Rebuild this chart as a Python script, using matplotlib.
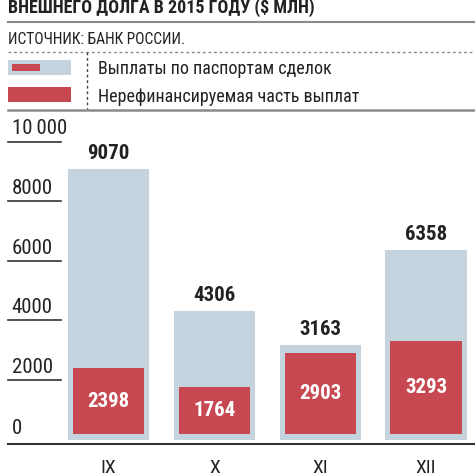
import numpy as np
import matplotlib.pyplot as plt
from matplotlib.patches import Rectangle
from matplotlib.lines import Line2D

# данные
months = ['IX', 'X', 'XI', 'XII']
total = [9070, 4306, 3163, 6358]          # выплаты по паспортам сделок
nonrefin = [2398, 1764, 2903, 3293]       # нерефинансируемая часть
yticks = [0, 2000, 4000, 6000, 8000, 10000]
ytick_labels = ['0', '2000', '4000', '6000', '8000', '10\u2009000']

light = '#c5d3de'
red = '#c84852'
dark = '#222222'
grey = '#8a8a8a'

plt.rcParams['font.family'] = ['Roboto Condensed', 'DejaVu Sans']

W = H = 475
fig = plt.figure(figsize=(4.75, 4.75), dpi=100)

def fx(x):
    return x / W

def fy(y):
    return 1 - y / H

# заголовок и шапка
fig.text(fx(8), fy(12.5), 'ВНЕШНЕГО ДОЛГА В 2015 ГОДУ ($ МЛН)', fontsize=13,
         fontweight='bold', color=dark, va='baseline', ha='left')
fig.add_artist(Line2D([fx(8), 1], [fy(22), fy(22)], color=grey, lw=1.5))
fig.text(fx(8), fy(43.5), 'ИСТОЧНИК: БАНК РОССИИ.', fontsize=11.2,
         color=dark, va='baseline', ha='left')
fig.add_artist(Line2D([fx(8), 1], [fy(52), fy(52)], color=grey, lw=1, ls=(0, (2, 2))))
fig.add_artist(Line2D([fx(87), fx(87)], [fy(52), fy(109)], color='#444444', lw=1, ls=(0, (2, 2))))
fig.add_artist(Line2D([fx(8), 1], [fy(109.5), fy(109.5)], color=grey, lw=1.8))

# легенда
fig.add_artist(Rectangle((fx(8), fy(75)), fx(63), 15 / H, color=light, lw=0))
fig.add_artist(Rectangle((fx(12), fy(71)), fx(28), 7 / H, color=red, lw=0))
fig.add_artist(Rectangle((fx(8), fy(102)), fx(63), 15 / H, color=red, lw=0))
fig.text(fx(98), fy(74), 'Выплаты по паспортам сделок', fontsize=13,
         color=dark, va='baseline', ha='left')
fig.text(fx(98), fy(102), 'Нерефинансируемая часть выплат', fontsize=13,
         color=dark, va='baseline', ha='left')

# оси: x от 8 до 475 px, y от 444 до 115 px
ax = fig.add_axes([fx(8), fy(444), fx(467), (444 - 115) / H])
ax.set_xlim(-0.95, 3.463)
ax.set_ylim(-148, 10893)
for s in ['top', 'right', 'left']:
    ax.spines[s].set_visible(False)
ax.spines['bottom'].set_color('#333333')
ax.spines['bottom'].set_linewidth(1.5)

x = np.arange(len(months))
pad = 185
ax.bar(x, total, width=0.766, color=light, lw=0)
ax.bar(x, np.array(nonrefin) - pad, bottom=pad, width=0.671, color=red, lw=0)

for xi, t, r in zip(x, total, nonrefin):
    ax.text(xi, t + 200, str(t), ha='center', va='bottom', fontsize=15,
            fontweight='bold', color=dark)
    ax.text(xi, (r + pad) / 2, str(r), ha='center', va='center', fontsize=15,
            fontweight='bold', color='white')

# подписи оси y
trans = ax.get_yaxis_transform()
for v, lab in zip(yticks[1:], ytick_labels[1:]):
    ax.plot([0, 0.1135], [v, v], color='#333333', lw=1.2, transform=trans, clip_on=False)
    ax.text(0.008, v + 110, lab, transform=trans, ha='left', va='bottom',
            fontsize=15, color=dark)
ax.text(0.008, 70, '0', transform=trans, ha='left', va='bottom', fontsize=15, color=dark)

ax.set_yticks([])
ax.set_xticks(x)
ax.set_xticklabels(months, fontsize=14, color=dark)
ax.tick_params(axis='x', length=0, pad=11)

fig.savefig('out.png', dpi=100)
